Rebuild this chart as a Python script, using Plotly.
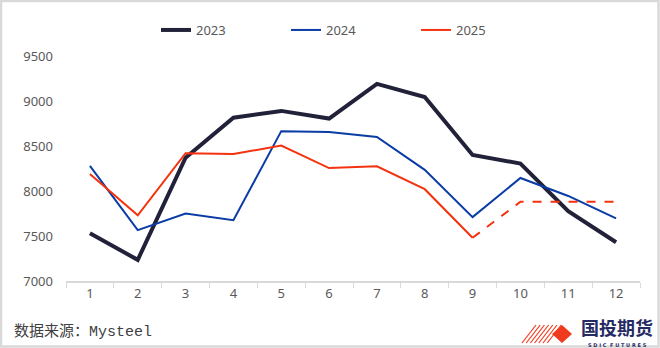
import plotly.graph_objects as go

months = ["1", "2", "3", "4", "5", "6", "7", "8", "9", "10", "11", "12"]
y2023 = [7530, 7235, 8370, 8815, 8890, 8805, 9190, 9045, 8400, 8305, 7775, 7430]
y2024 = [8280, 7565, 7750, 7675, 8665, 8655, 8600, 8235, 7710, 8145, 7945, 7695]
y2025_solid = [8190, 7730, 8420, 8410, 8505, 8255, 8275, 8020, 7480]
y2025_dash_x = ["9", "10", "11", "12"]
y2025_dash = [7480, 7880, 7880, 7880]
yticks = [7000, 7500, 8000, 8500, 9000, 9500]

W, H = 660, 348
L, R, T, B = 66, 20, 56, 67
PW, PH = W - L - R, H - T - B

def px(x):
    return (x - L) / PW

def py(y):
    return (H - B - y) / PH

fig = go.Figure()
fig.add_trace(go.Scatter(x=months, y=y2023, mode="lines", name="2023",
                         line=dict(color="#22213a", width=4)))
fig.add_trace(go.Scatter(x=months, y=y2024, mode="lines", name="2024",
                         line=dict(color="#0a3ca6", width=2)))
fig.add_trace(go.Scatter(x=months[:9], y=y2025_solid, mode="lines", name="2025",
                         line=dict(color="#f5320f", width=2)))
fig.add_trace(go.Scatter(x=y2025_dash_x, y=y2025_dash, mode="lines", name="2025",
                         showlegend=False,
                         line=dict(color="#f5320f", width=2, dash="dash")))

tickfont = dict(family="Noto Sans, DejaVu Sans", size=13, color="#595959")

fig.update_layout(
    width=W, height=H,
    margin=dict(l=L, r=R, t=T, b=B),
    paper_bgcolor="white", plot_bgcolor="white",
    showlegend=True,
    legend=dict(orientation="h", x=px(156), y=py(30), xanchor="left", yanchor="middle",
                font=tickfont, itemwidth=30, entrywidth=85, entrywidthmode="pixels",
                bgcolor="rgba(0,0,0,0)"),
    xaxis=dict(type="category", tickson="boundaries", ticks="outside", ticklen=5,
               tickcolor="#d9d9d9", tickwidth=1, showline=True, linecolor="#d9d9d9",
               linewidth=1.5, showgrid=False, tickfont=tickfont, zeroline=False,
               range=[-0.5, 11.5]),
    yaxis=dict(range=[7000, 9500], tickvals=yticks, showgrid=False, showline=False,
               zeroline=False, tickfont=tickfont, ticks="", ticklabelstandoff=12),
)

# footer source text
fig.add_annotation(x=px(12), y=py(332), xref="paper", yref="paper",
                   xanchor="left", yanchor="middle", showarrow=False,
                   text="数据来源：Mysteel",
                   font=dict(family="Liberation Mono, Noto Sans CJK SC", size=15, color="#404040"))

# logo text
fig.add_annotation(x=px(617), y=py(341), xref="paper", yref="paper",
                   xanchor="center", yanchor="bottom", showarrow=False,
                   text="<b>国投期货</b>", borderpad=0,
                   font=dict(family="Noto Sans CJK SC", size=18, color="#262a63"))
fig.add_annotation(x=px(617), y=py(341), xref="paper", yref="paper",
                   xanchor="center", yanchor="top", showarrow=False,
                   text="<b>S D I C  F U T U R E S</b>", borderpad=0,
                   font=dict(family="DejaVu Sans", size=5, color="#262a63"))

shapes = []
# logo stripes
for i in range(7):
    x0 = 522 + i * 4.2
    shapes.append(dict(type="line", xref="paper", yref="paper",
                       x0=px(x0), y0=py(343), x1=px(x0 + 14), y1=py(325),
                       line=dict(color="#f03a1e", width=1.2)))
# logo diamond
d = f"M {px(552)},{py(334)} L {px(562)},{py(325)} L {px(572)},{py(334)} L {px(562)},{py(343)} Z"
shapes.append(dict(type="path", xref="paper", yref="paper", path=d,
                   fillcolor="#f03a1e", line=dict(width=0)))
# outer border
shapes.append(dict(type="rect", xref="paper", yref="paper",
                   x0=px(1), y0=py(1), x1=px(658.5), y1=py(346.5),
                   line=dict(color="#d9d9d9", width=2.5)))
fig.update_layout(shapes=shapes)

fig.write_html("out.html")
